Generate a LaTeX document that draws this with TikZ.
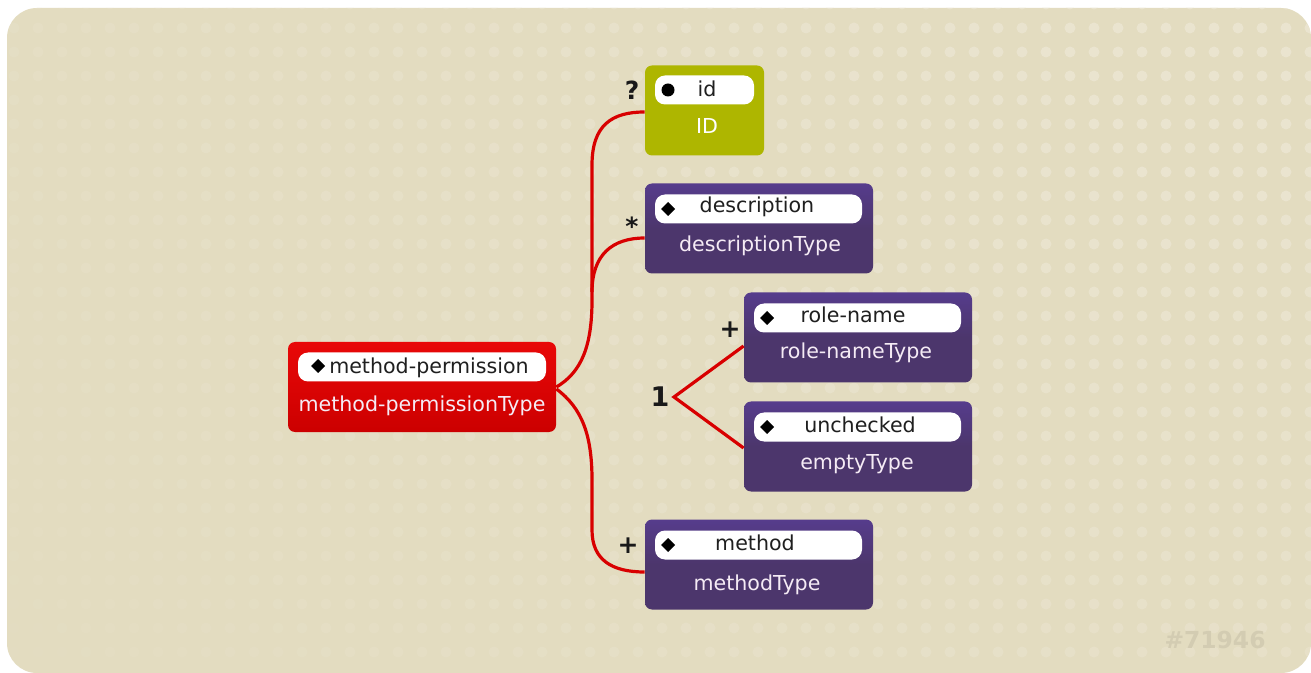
\documentclass[tikz,border=0pt]{standalone}
\usepackage{fontspec}
\setmainfont{DejaVu Sans}
\definecolor{bgc}{HTML}{E3DCC0}
\definecolor{dotc}{HTML}{EAE4CF}
\definecolor{cred}{HTML}{D80000}
\definecolor{redtop}{HTML}{E80808}
\definecolor{redbot}{HTML}{CC0000}
\definecolor{purtop}{HTML}{563C8C}
\definecolor{purbot}{HTML}{4C366C}
\definecolor{olive}{HTML}{AEB600}
\definecolor{wm}{HTML}{D3CCB2}
\begin{document}
\begin{tikzpicture}[x=0.5pt,y=-0.5pt,
  box/.style={draw=none, rounded corners=3.5pt, inner sep=0pt, minimum height=45pt},
  redbox/.style={box, top color=redtop, bottom color=redbot},
  purbox/.style={box, top color=purtop, bottom color=purbot, middle color=purbot},
  olivebox/.style={box, fill=olive},
  pill/.style={fill=white, rounded corners=5pt, inner sep=0pt, minimum height=14.5pt},
  ptext/.style={anchor=base, text=black!88, font=\fontsize{10.3}{12}\selectfont, inner sep=0pt},
  ttext/.style={anchor=base, text=white!92!violet, font=\fontsize{10.3}{12}\selectfont, inner sep=0pt},
  conn/.style={draw=cred, line width=1.6pt},
  card/.style={font=\bfseries\fontsize{12.5}{14}\selectfont, inner sep=0pt, text=black!90}
]
\useasboundingbox (0,0) rectangle (1311,673);
% background
\fill[white] (0,0) rectangle (1311,673);
\fill[bgc, rounded corners=15pt] (7,8) rectangle (1311,673);
\begin{scope}
\clip[rounded corners=15pt] (7,8) rectangle (1311,673);
\foreach \i in {0,...,54}{
  \foreach \j in {0,...,27}{
    \pgfmathsetmacro{\xx}{14+24*\i}
    \pgfmathsetmacro{\yy}{4+24*\j}
    \pgfmathsetmacro{\dd}{100*sqrt(((1311-\xx)/100)^2+(1.3*\yy/100)^2)}
    \pgfmathsetmacro{\op}{max(0,min(1,1.2-\dd/1400))}
    \fill[dotc, opacity=\op] (\xx,\yy) circle[radius=5.5];
  }
}
\end{scope}

% boxes
\node[redbox, minimum width=134pt] (mp) at (422,387) {};
\node[pill, minimum width=124pt] (mpp) at (422,367) {};
\node[ptext] (mpt) at (429,373) {method-permission};
\node[ttext] (mpy) at (422,411) {method-permissionType};
\fill[black] (311,366) -- (318,359) -- (325,366) -- (318,373) -- cycle;

\node[olivebox, minimum width=59.5pt] (id) at (704.5,110.5) {};
\node[pill, minimum width=49.5pt] (idp) at (704.5,90) {};
\node[ptext] (idt) at (707,97) {id};
\node[ttext, text=white] (idy) at (707,134) {ID};
\fill[black] (668,90) circle[radius=6.5];

\node[purbox, minimum width=114pt] (desc) at (759,228.5) {};
\node[pill, minimum width=103.5pt] (descp) at (758.5,209) {};
\node[ptext] (desct) at (757,213) {description};
\node[ttext] (descy) at (760,252) {descriptionType};
\fill[black] (661,209) -- (668,202) -- (675,209) -- (668,216) -- cycle;

\node[purbox, minimum width=114pt] (role) at (858,337.5) {};
\node[pill, minimum width=103.5pt] (rolep) at (857.5,318) {};
\node[ptext] (rolet) at (853,323) {role-name};
\node[ttext] (roley) at (856,359) {role-nameType};
\fill[black] (760,318) -- (767,311) -- (774,318) -- (767,325) -- cycle;

\node[purbox, minimum width=114pt] (unch) at (858,446.5) {};
\node[pill, minimum width=103.5pt] (unchp) at (857.5,427) {};
\node[ptext] (uncht) at (860,432) {unchecked};
\node[ttext] (unchy) at (857,469) {emptyType};
\fill[black] (760,427) -- (767,420) -- (774,427) -- (767,434) -- cycle;

\node[purbox, minimum width=114pt] (meth) at (759,564.5) {};
\node[pill, minimum width=103.5pt] (methp) at (758.5,545) {};
\node[ptext] (metht) at (755,550) {method};
\node[ttext] (methy) at (757,590) {methodType};
\fill[black] (661,545) -- (668,538) -- (675,545) -- (668,552) -- cycle;

% connectors
\coordinate (j1) at (592,292);
\coordinate (ch) at (674,397);
\draw[conn] (mp.east) .. controls (582,372) and (592,345) .. (592,300) -- (592,165) .. controls (592,125) and (612,112) .. (id.west |- 0,112);
\draw[conn] (j1) .. controls (592,255) and (612,238) .. (desc.west |- 0,238);
\draw[conn] ([yshift=-1pt]mp.east) .. controls (582,408) and (592,435) .. (592,480) -- (592,530) .. controls (592,560) and (612,572) .. (meth.west |- 0,572);
\draw[conn, line join=miter] (role.west |- 0,346) -- (ch) -- (unch.west |- 0,448);

% cardinalities
\node[card] (c1) at (632,90) {?};
\node[card] (c2) at (632,226) {*};
\node[card] (c3) at (730,330) {+};
\node[card] (c4) at (628,546) {+};
\node[card, font=\bfseries\fontsize{13.5}{15}\selectfont] (c5) at (660,397) {1};

\node[text=wm, font=\bfseries\fontsize{11.7}{14}\selectfont, inner sep=0pt] (wmk) at (1215,640) {\#71946};
\end{tikzpicture}
\end{document}
